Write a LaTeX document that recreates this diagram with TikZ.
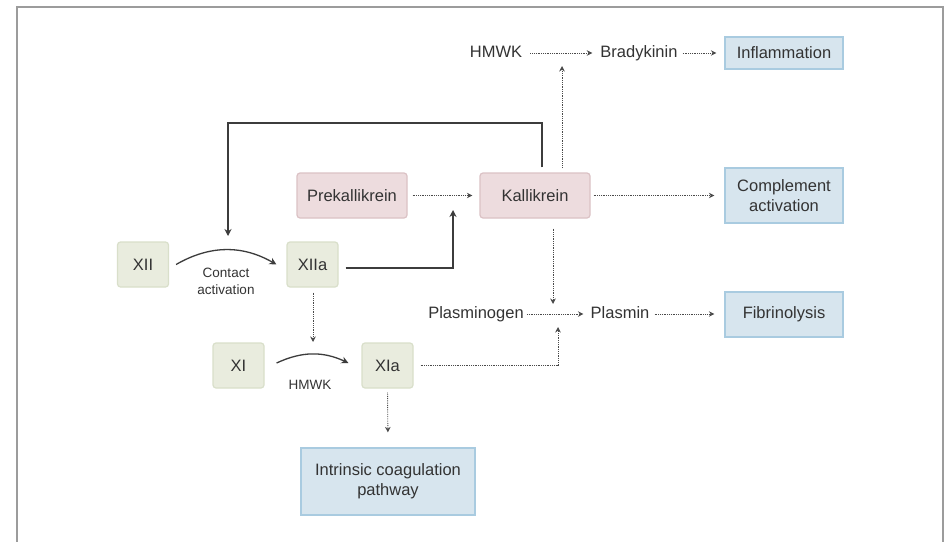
\documentclass[tikz,border=0pt]{standalone}
\usepackage{fontspec}
\setmainfont{Liberation Sans}
\usetikzlibrary{arrows.meta,calc}
\definecolor{txt}{HTML}{333333}
\definecolor{ln}{HTML}{3C3C3C}
\definecolor{dl}{HTML}{4A4A4A}
\definecolor{gfill}{HTML}{E9ECDE}
\definecolor{gdraw}{HTML}{D9DFCA}
\definecolor{pfill}{HTML}{EDDCDE}
\definecolor{pdraw}{HTML}{DBC2C5}
\definecolor{bfill}{HTML}{D7E5EE}
\definecolor{bdraw}{HTML}{A9CBE0}
\definecolor{framec}{HTML}{9C9C9C}
\begin{document}
\begin{tikzpicture}[x=1pt,y=-1pt,
  every node/.style={text=txt,font=\fontsize{16.5}{20}\selectfont,align=center},
  gbox/.style={draw=gdraw,fill=gfill,rounded corners=3pt,line width=1.2pt,inner sep=0pt,minimum width=51pt,minimum height=45pt},
  pbox/.style={draw=pdraw,fill=pfill,rounded corners=3pt,line width=1.2pt,inner sep=0pt,minimum width=110pt,minimum height=45pt},
  bbox/.style={draw=bdraw,fill=bfill,line width=1.2pt,inner sep=0pt,minimum width=118pt},
  plain/.style={inner sep=0pt,text height=12pt,text depth=3.5pt},
  small/.style={inner sep=0pt,font=\fontsize{13.5}{17}\selectfont},
  dotarrow/.style={draw=dl,line width=0.9pt,dash pattern=on 0.8pt off 1pt,-{Stealth[length=5.5pt,width=5.5pt]}},
  solidarrow/.style={draw=ln,line width=1.3pt,-{Stealth[length=7pt,width=7pt]}},
]
\useasboundingbox (0,0) rectangle (948,541);
\fill[white] (0,0) rectangle (948,541);
\draw[framec,line width=2pt] (17,560) -- (17,7) -- (943,7) -- (943,560);

% boxes
\node[gbox] (XII) at (143,264.5) {XII};
\node[gbox] (XIIa) at (312.5,264.5) {XIIa};
\node[gbox] (XI) at (238.5,365.5) {XI};
\node[gbox] (XIa) at (387.5,365.5) {XIa};
\node[pbox] (Pre) at (352,195.5) {Prekallikrein};
\node[pbox] (Kal) at (535,195.5) {Kallikrein};
\node[bbox,minimum height=55pt] (Comp) at (784,195.5) {Complement\\activation};
\node[bbox,minimum height=32pt] (Infl) at (784,53) {Inflammation};
\node[bbox,minimum height=45pt] (Fib) at (784,314.5) {Fibrinolysis};
\node[bbox,minimum width=174pt,minimum height=67pt] (Intr) at (388,481.5) {Intrinsic coagulation\\pathway};

% plain texts
\node[plain] (HMWK) at (496,53) {HMWK};
\node[plain] (Brady) at (639,53) {Bradykinin};
\node[plain] (Plg) at (476,314) {Plasminogen};
\node[plain] (Pln) at (620,314) {Plasmin};
\node[small] (CA) at (226,281) {Contact\\activation};
\node[small] (HM2) at (310,385) {HMWK};

% coordinates for free ends
\coordinate (bkt) at (562,66);
\coordinate (plt) at (553,304);
\coordinate (xat) at (558,327);
\coordinate (xkt) at (453,210);
\coordinate (fbx) at (542,123);
\coordinate (fbt) at (228,236);
\coordinate (xdt) at (313,342);

% dotted connectors
\draw[dotarrow,shorten <=8pt,shorten >=8pt] (HMWK.east) -- (Brady.west);
\draw[dotarrow,shorten <=5pt,shorten >=8pt] (Brady.east) -- (Brady.east -| Infl.west);
\draw[dotarrow,shorten <=5pt] (Kal.north -| bkt) -- (bkt);
\draw[dotarrow,shorten <=5pt,shorten >=7pt] (Pre.east) -- (Kal.west);
\draw[dotarrow,shorten <=3pt,shorten >=10pt] (Kal.east) -- (Comp.west);
\draw[dotarrow,shorten <=10pt] (Kal.south -| plt) -- (plt);
\draw[dotarrow,shorten <=3pt,shorten >=7pt] (Plg.east) -- (Pln.west);
\draw[dotarrow,shorten <=5pt,shorten >=10pt] (Pln.east) -- (Pln.east -| Fib.west);
\draw[dotarrow,shorten <=7pt] (XIa.east) -- (XIa.east -| xat) -- (xat);
\draw[dotarrow,shorten <=5pt] (XIIa.south -| xdt) -- (xdt);
\draw[dotarrow,shorten <=4pt,shorten >=15pt] (XIa.south) -- (Intr.north);

% solid connectors
\draw[solidarrow,shorten <=7pt] ([yshift=-3.5pt]XIIa.east) -- ([yshift=-3.5pt]XIIa.east -| xkt) -- (xkt);
\draw[solidarrow,shorten <=5pt] (Kal.north -| fbx) -- (fbx) -- (fbx -| fbt) -- (fbt);
\draw[solidarrow] ([xshift=7pt]XII.east) to[bend left=30] ([xshift=-10pt]XIIa.west);
\draw[solidarrow] ([xshift=12pt,yshift=2.5pt]XI.east) to[bend left=25] ([xshift=-13pt,yshift=2.5pt]XIa.west);
\end{tikzpicture}
\end{document}
